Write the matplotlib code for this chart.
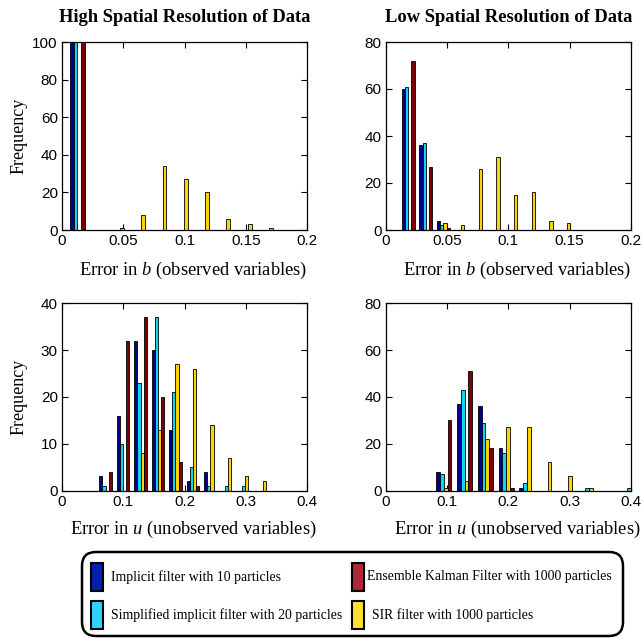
import matplotlib
matplotlib.use("Agg")
import matplotlib.pyplot as plt
from matplotlib.patches import FancyBboxPatch, Rectangle
import numpy as np

plt.rcParams['mathtext.fontset'] = 'custom'
plt.rcParams['mathtext.rm'] = 'Liberation Serif'
plt.rcParams['mathtext.it'] = 'Liberation Serif:italic'

series_names = ["Implicit filter with 10 particles",
                "Simplified implicit filter with 20 particles",
                "SIR filter with 1000 particles",
                "Ensemble Kalman Filter with 1000 particles"]
bar_colors = ['#00008c', '#10d4f4', '#ffd200', '#800000']
legend_colors = ['#0020b0', '#30d0ff', '#ffe030', '#b02838']

# bin centres per panel
centers_hb = [0.0126, 0.0300, 0.0473, 0.0647, 0.0821, 0.0995, 0.1168, 0.1342, 0.1516, 0.1689]
centers_lb = [0.0183, 0.0327, 0.0471, 0.0615, 0.0759, 0.0903, 0.1047, 0.1191, 0.1335, 0.1479]
centers_hu = [0.0713, 0.0998, 0.1283, 0.1568, 0.1853, 0.2138, 0.2423, 0.2708, 0.2993, 0.3278]
centers_lu = [0.0950, 0.1288, 0.1626, 0.1964, 0.2302, 0.2640, 0.2978, 0.3316, 0.3654, 0.3992]

# counts: implicit10, simplified20, SIR1000, EnKF1000
hb_implicit = [100, 0, 0, 0, 0, 0, 0, 0, 0, 0]
hb_simpl    = [100, 0, 0, 0, 0, 0, 0, 0, 0, 0]
hb_sir      = [0, 0, 1, 8, 34, 27, 20, 6, 3, 1]
hb_enkf     = [100, 0, 0, 0, 0, 0, 0, 0, 0, 0]

lb_implicit = [60, 36, 4, 0, 0, 0, 0, 0, 0, 0]
lb_simpl    = [61, 37, 2, 0, 0, 0, 0, 0, 0, 0]
lb_sir      = [0, 0, 3, 2, 26, 31, 15, 16, 4, 3]
lb_enkf     = [72, 27, 1, 0, 0, 0, 0, 0, 0, 0]

hu_implicit = [3, 16, 32, 30, 13, 2, 4, 0, 0, 0]
hu_simpl    = [1, 10, 23, 37, 21, 5, 1, 1, 1, 0]
hu_sir      = [0, 0, 8, 13, 27, 26, 14, 7, 3, 2]
hu_enkf     = [4, 32, 37, 20, 6, 1, 0, 0, 0, 0]

lu_implicit = [8, 37, 36, 18, 1, 0, 0, 0, 0, 0]
lu_simpl    = [7, 43, 29, 16, 3, 0, 0, 1, 0, 1]
lu_sir      = [1, 4, 22, 27, 27, 12, 6, 1, 0, 0]
lu_enkf     = [30, 51, 18, 1, 0, 0, 0, 0, 0, 0]

W, H = 642, 638
fig = plt.figure(figsize=(W / 100, H / 100), dpi=100)

def axrect(l, t, r, b):
    return [l / W, 1 - b / H, (r - l) / W, (b - t) / H]

panels = [
    dict(rect=axrect(62, 42, 307, 230), centers=centers_hb,
         data=[hb_implicit, hb_simpl, hb_sir, hb_enkf],
         xlim=(0, 0.2), xticks=[0, 0.05, 0.1, 0.15, 0.2],
         xtl=['0', '0.05', '0.1', '0.15', '0.2'],
         ylim=(0, 100), yticks=[0, 20, 40, 60, 80, 100],
         title='High Spatial Resolution of Data',
         xlabel='Error in $b$ (observed variables)', ylabel=True, xly=-0.16),
    dict(rect=axrect(385.7, 42, 631, 230), centers=centers_lb,
         data=[lb_implicit, lb_simpl, lb_sir, lb_enkf],
         xlim=(0, 0.2), xticks=[0, 0.05, 0.1, 0.15, 0.2],
         xtl=['0', '0.05', '0.1', '0.15', '0.2'],
         ylim=(0, 80), yticks=[0, 20, 40, 60, 80],
         title='Low Spatial Resolution of Data',
         xlabel='Error in $b$ (observed variables)', ylabel=False, xly=-0.16),
    dict(rect=axrect(62, 303.3, 307, 490.5), centers=centers_hu,
         data=[hu_implicit, hu_simpl, hu_sir, hu_enkf],
         xlim=(0, 0.4), xticks=[0, 0.1, 0.2, 0.3, 0.4],
         xtl=['0', '0.1', '0.2', '0.3', '0.4'],
         ylim=(0, 40), yticks=[0, 10, 20, 30, 40],
         title=None,
         xlabel='Error in $u$ (unobserved variables)', ylabel=True, xly=-0.15),
    dict(rect=axrect(385.7, 303.3, 631, 490.5), centers=centers_lu,
         data=[lu_implicit, lu_simpl, lu_sir, lu_enkf],
         xlim=(0, 0.4), xticks=[0, 0.1, 0.2, 0.3, 0.4],
         xtl=['0', '0.1', '0.2', '0.3', '0.4'],
         ylim=(0, 80), yticks=[0, 20, 40, 60, 80],
         title=None,
         xlabel='Error in $u$ (unobserved variables)', ylabel=False, xly=-0.15),
]

for p in panels:
    ax = fig.add_axes(p['rect'])
    c = np.array(p['centers'])
    spacing = c[1] - c[0]
    w = spacing * 0.1818
    for i, (vals, col) in enumerate(zip(p['data'], bar_colors)):
        vals = np.array(vals, dtype=float)
        mask = vals > 0
        ax.bar(c[mask] + (i - 1.5) * w, vals[mask], width=w, color=col,
               edgecolor='black', linewidth=0.6, align='center', zorder=2)
    ax.set_xlim(*p['xlim'])
    ax.set_ylim(*p['ylim'])
    ax.set_xticks(p['xticks'])
    ax.set_xticklabels(p['xtl'])
    ax.set_yticks(p['yticks'])
    ax.tick_params(direction='in', top=True, right=True, length=4, width=0.8,
                   labelsize=11, pad=3)
    for lab in ax.get_xticklabels() + ax.get_yticklabels():
        lab.set_fontfamily('Liberation Sans')
    for s in ax.spines.values():
        s.set_linewidth(0.9)
        s.set_zorder(3)
    if p['title']:
        ax.set_title(p['title'], fontfamily='Liberation Serif', fontweight='bold',
                     fontsize=13.3, pad=14.5)
    ax.set_xlabel(p['xlabel'], fontfamily='Liberation Serif', fontsize=13.3)
    ax.xaxis.set_label_coords(0.5 + 9 / 245, p['xly'])
    if p['ylabel']:
        ax.set_ylabel('Frequency', fontfamily='Liberation Serif', fontsize=13)
        ax.yaxis.set_label_coords(-34 / 245, 0.5)

# legend in pixel coordinates
lax = fig.add_axes([0, 0, 1, 1])
lax.set_xlim(0, W)
lax.set_ylim(H, 0)
lax.axis('off')
box = FancyBboxPatch((82, 552), 623 - 82, 636 - 552,
                     boxstyle='round,pad=0,rounding_size=14',
                     facecolor='white', edgecolor='black', linewidth=1.8)
lax.add_patch(box)
entries = [(0, 90.7, 562.7, 110.7, 576.7),
           (1, 90.7, 601, 110.7, 615),
           (3, 351.7, 562.7, 366.7, 576.7),
           (2, 351.7, 601, 372.3, 615)]
for idx, px, py, tx, ty in entries:
    lax.add_patch(Rectangle((px, py), 12.6, 28, facecolor=legend_colors[idx],
                            edgecolor='black', linewidth=1.5))
    lax.text(tx, ty, series_names[idx], fontfamily='Liberation Serif',
             fontsize=9.9, va='center', ha='left')

fig.savefig('out.png', dpi=100)
